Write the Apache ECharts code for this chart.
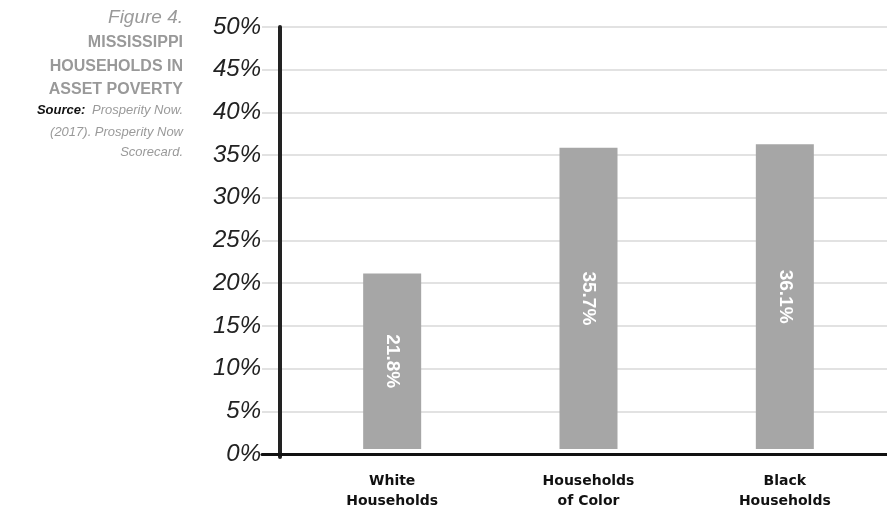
<!DOCTYPE html>
<html>
<head>
<meta charset="utf-8">
<script src="https://cdn.jsdelivr.net/npm/echarts@6/dist/echarts.min.js"></script>
<style>html,body{margin:0;padding:0;background:#fff}#c{width:887px;height:511px}</style>
</head>
<body>
<div id="c"></div>
<script>
var categories = ['White\nHouseholds', 'Households\nof Color', 'Black\nHouseholds'];
var values = [20.8, 35.7, 36.1];
var valueLabels = ['21.8%', '35.7%', '36.1%'];
var yMin = 0, yMax = 50, yStep = 5;

function t(y, text, size, weight, style, color) {
  return {type: 'text', x: 183, y: y, style: {text: text, align: 'right', verticalAlign: 'middle',
    fontSize: size, fontWeight: weight, fontStyle: style, fontFamily: 'Liberation Sans', fill: color}};
}

var chart = echarts.init(document.getElementById('c'), null, {renderer: 'canvas'});
var option = {
  animation: false,
  backgroundColor: '#ffffff',
  graphic: [
    t(18, 'Figure 4.', 19, 'normal', 'italic', '#9a9a9a'),
    t(43, 'MISSISSIPPI', 16, 'bold', 'normal', '#999999'),
    t(67, 'HOUSEHOLDS IN', 16, 'bold', 'normal', '#999999'),
    t(90, 'ASSET POVERTY', 16, 'bold', 'normal', '#999999'),
    {type: 'text', x: 183, y: 110, style: {text: '{b|Source:}  {n|Prosperity Now.}', align: 'right', verticalAlign: 'middle',
      rich: {b: {fontSize: 13, fontWeight: 'bold', fontStyle: 'italic', fontFamily: 'Liberation Sans', fill: '#111'},
             n: {fontSize: 13, fontStyle: 'italic', fontFamily: 'Liberation Sans', fill: '#9a9a9a'}}}},
    t(132, '(2017). Prosperity Now', 13, 'normal', 'italic', '#9a9a9a'),
    t(152, 'Scorecard.', 13, 'normal', 'italic', '#9a9a9a')
  ],
  grid: [
    {left: 262, right: 0, top: 27, bottom: 57},
    {left: 294, right: 4, top: 27, bottom: 57},
    {left: 280, width: 1, top: 27, bottom: 54}
  ],
  xAxis: [
    {gridIndex: 0, type: 'value', min: 0, max: 1, axisLine: {show: true, onZero: false, lineStyle: {color: '#111', width: 3}}, axisTick: {show: false}, axisLabel: {show: false}, splitLine: {show: false}},
    {gridIndex: 1, type: 'category', data: categories, axisLine: {show: false}, axisTick: {show: false},
      axisLabel: {margin: 22, color: '#111', fontFamily: 'DejaVu Sans', fontWeight: 'bold', fontSize: 14, lineHeight: 20}},
    {gridIndex: 2, type: 'value', show: false}
  ],
  yAxis: [
    {gridIndex: 0, type: 'value', min: yMin, max: yMax, interval: yStep,
      axisLine: {show: false}, axisTick: {show: false},
      splitLine: {show: true, lineStyle: {color: '#d9d9d9', width: 1.5}},
      axisLabel: {margin: 1, formatter: '{value}%', color: '#222', fontStyle: 'italic', fontFamily: 'Liberation Sans', fontSize: 24}},
    {gridIndex: 1, type: 'value', min: yMin, max: yMax, interval: yStep, show: false},
    {gridIndex: 2, type: 'value', min: 0, max: 1, axisLine: {show: true, lineStyle: {color: '#222', width: 4}}, axisTick: {show: false}, axisLabel: {show: false}, splitLine: {show: false}}
  ],
  series: [{
    type: 'bar', xAxisIndex: 1, yAxisIndex: 1, data: values, barWidth: 58,
    itemStyle: {color: '#a6a6a6'},
    label: {show: true, position: 'inside', rotate: -90, color: '#ffffff', fontFamily: 'Liberation Sans', fontWeight: 'bold', fontSize: 19,
      formatter: function (p) { return valueLabels[p.dataIndex]; }}
  }]
};
chart.setOption(option);
</script>
</body>
</html>
